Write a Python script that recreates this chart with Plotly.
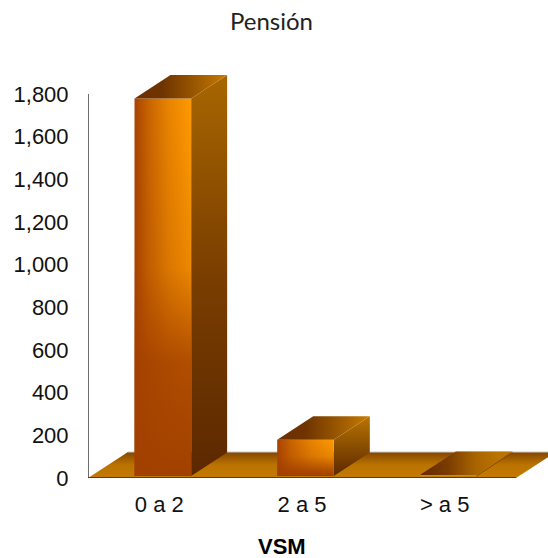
import plotly.graph_objects as go

categories = ["0 a 2", "2 a 5", "> a 5"]
values = [1770, 170, 5]
tick_values = [0, 200, 400, 600, 800, 1000, 1200, 1400, 1600, 1800]

PX_X = 428 / 3          # pixels per category
PX_Y = 384 / 1800       # pixels per value unit
DX = 36 / PX_X          # oblique depth of the bars, x
DY = 23.5 / PX_Y        # oblique depth of the bars, y
FDX = 40 / PX_X         # oblique depth of the floor, x
FDY = 26 / PX_Y         # oblique depth of the floor, y
HALF = 28.3 / PX_X      # half bar width
BASE = 2 / PX_Y         # bars stand slightly behind the front edge
SHIFT = 3.5 / PX_X      # bars sit slightly right of their labels


def poly(xs, ys, colors, kind, stops=None):
    stops = stops or [i / (len(colors) - 1) for i in range(len(colors))]
    return go.Scatter(
        x=xs + xs[:1], y=ys + ys[:1], mode="lines", fill="toself",
        line=dict(width=0), hoverinfo="skip", showlegend=False,
        fillgradient=dict(type=kind, colorscale=list(zip(stops, colors))),
    )


fig = go.Figure()

# floor
fx0, fx1 = -0.5, 2.5
fig.add_trace(poly([fx0, fx1, fx1 + FDX, fx0 + FDX], [0, 0, FDY, FDY],
                   ["#c47a00", "#bb7400", "#844600"], "vertical", [0, 0.5, 1]))
fig.add_trace(go.Scatter(x=[fx0 + FDX, fx1 + FDX + 1], y=[FDY, FDY], mode="lines",
                         line=dict(color="#c8c8c8", width=1), hoverinfo="skip", showlegend=False))

for i in [2, 1, 0]:
    v = values[i]
    l, r = i + SHIFT - HALF, i + SHIFT + HALF
    b, t = BASE, BASE + v
    tall = v > 500
    small = v < 50
    # right side
    if small:
        fig.add_trace(go.Scatter(x=[r, r + DX], y=[b, b + DY], mode="lines",
                                 line=dict(color="#8a4c00", width=1), hoverinfo="skip", showlegend=False))
    else:
        fig.add_trace(poly([r, r + DX, r + DX, r], [b, b + DY, t + DY, t],
                           ["#5c2800", "#7a3e00", "#a86600"] if tall else ["#5c2800", "#8a4e00", "#b87400"],
                           "vertical"))
    # front
    if small:
        fig.add_trace(go.Scatter(x=[l, r], y=[t, t], mode="lines",
                                 line=dict(color="#e88a00", width=1.5), hoverinfo="skip", showlegend=False))
    else:
        fig.add_trace(poly([l, r, r, l], [b, b, t, t],
                           ["#a84200", "#c86400", "#e88400", "#ff9a00"], "horizontal", [0, 0.25, 0.6, 1]))
        fig.add_trace(poly([l, r, r, l], [b, b, t, t],
                           ["rgba(162,64,0,1)", "rgba(162,64,0,0.85)", "rgba(162,64,0,0.2)", "rgba(162,64,0,0)"],
                           "vertical", [0, 0.3, 0.55, 1] if tall else [0, 0.15, 0.55, 1]))
    # top
    if small:
        tc = ["#642800", "#7a3c00", "#a86400", "#bb7400", "#bb7400"]
        ts = [0, 0.3, 0.6, 0.85, 1]
    else:
        tc = ["#6e3000", "#6e3400", "#a05c00", "#c87c00"]
        ts = [0, 0.3, 0.7, 1]
    fig.add_trace(poly([l, r, r + DX, l + DX], [t, t, t + DY, t + DY], tc, "horizontal", ts))

# axis lines
fig.add_trace(go.Scatter(x=[-0.5, -0.5], y=[0, 1800], mode="lines",
                         line=dict(color="#3c3c3c", width=1.5), hoverinfo="skip", showlegend=False))
fig.add_trace(go.Scatter(x=[-0.5, 2.5], y=[0, 0], mode="lines",
                         line=dict(color="#2a2a2a", width=1.5), hoverinfo="skip", showlegend=False))

fig.update_layout(
    width=548, height=558,
    margin=dict(l=88, r=0, t=60, b=80),
    paper_bgcolor="white", plot_bgcolor="white",
    showlegend=False,
    title=dict(text="Pensión", x=271.5 / 548, xref="container", xanchor="center",
               y=1 - 22 / 558, yanchor="middle",
               font=dict(family="Lato", size=24, color="#222222")),
    font=dict(family="Liberation Sans", color="#111111"),
    annotations=[dict(text="<b>VSM</b>", xref="paper", yref="paper",
                      x=(282 - 88) / 460, y=-(546 - 478) / 418,
                      xanchor="center", yanchor="middle", showarrow=False,
                      font=dict(size=22, color="#000000"))],
)
fig.update_xaxes(
    range=[-0.5, -0.5 + 460 / PX_X], tickmode="array",
    tickvals=list(range(len(categories))), ticktext=categories,
    showgrid=False, zeroline=False, showline=False,
    ticks="outside", ticklen=7, tickcolor="rgba(0,0,0,0)",
    tickfont=dict(size=22),
)
fig.update_yaxes(
    range=[0, 418 / PX_Y], tickmode="array", tickvals=tick_values,
    tickformat=",", showgrid=False, zeroline=False, showline=False,
    ticks="outside", ticklen=14, tickcolor="rgba(0,0,0,0)",
    tickfont=dict(size=22),
)

fig.write_html("out.html", config={"displayModeBar": False},
               post_script="document.body.style.margin='0';document.documentElement.style.overflow='hidden';")
